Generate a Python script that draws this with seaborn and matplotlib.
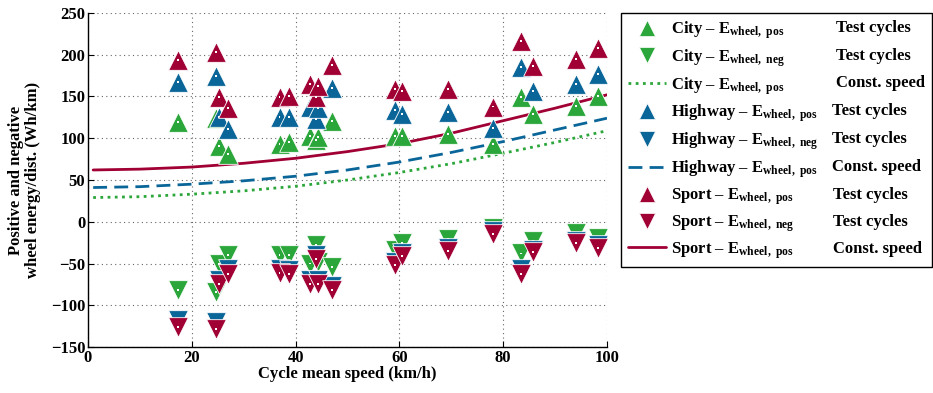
import matplotlib
matplotlib.use("Agg")
import matplotlib.pyplot as plt
from matplotlib.lines import Line2D
import seaborn as sns
import pandas as pd

# ---------------- data ----------------
speed = [17.4, 24.6, 25.2, 26.9, 36.9, 38.8, 42.7, 44.0, 44.3, 47.0,
         59.2, 60.5, 69.4, 78.1, 83.4, 85.7, 94.0, 98.3]

city_pos = [119, 124, 91, 81, 93, 95, 103, 98, 102, 121,
            103, 103, 105, 93, 149, 129, 139, 150]
city_neg = [-82, -84, -51, -40, -40, -40, -50, -28, -48, -54,
            -34, -26, -21, -7, -38, -23, -14, -19]

highway_pos = [167, 174, 125, 111, 125, 126, 137, 123, 136, 160,
               134, 129, 131, 112, 185, 157, 165, 177]
highway_neg = [-118, -120, -70, -57, -57, -58, -70, -40, -70, -77,
               -48, -38, -31, -11, -57, -34, -23, -28]

sport_pos = [194, 203, 149, 136, 149, 151, 165, 149, 163, 188,
             159, 156, 159, 138, 216, 186, 195, 208]
sport_neg = [-126, -128, -75, -62, -61, -63, -74, -45, -74, -82,
             -52, -41, -35, -15, -63, -36, -25, -31]

const_speed = [1, 10, 20, 30, 40, 50, 60, 70, 80, 90, 100]
city_const = [29, 30, 33, 37, 42.5, 50, 59, 69.5, 82, 95, 109]
highway_const = [41, 42, 45, 49, 54.5, 62, 71.5, 83, 96, 110, 124]
sport_const = [62, 63, 65.5, 70, 76, 84, 93.5, 106, 121, 136, 152]

x_ticks = [0, 20, 40, 60, 80, 100]
y_ticks = [-150, -100, -50, 0, 50, 100, 150, 200, 250]

GREEN = "#2AA63A"
BLUE = "#0A6699"
RED = "#A10035"

# ---------------- style ----------------
sns.set_theme(style="white")
plt.rcParams["font.family"] = ["Liberation Serif", "DejaVu Serif"]
plt.rcParams["font.weight"] = "bold"
plt.rcParams["text.color"] = "black"
plt.rcParams["axes.labelcolor"] = "black"
plt.rcParams["xtick.color"] = "black"
plt.rcParams["ytick.color"] = "black"
plt.rcParams["mathtext.fontset"] = "custom"
plt.rcParams["mathtext.rm"] = "Liberation Serif:bold"
plt.rcParams["mathtext.bf"] = "Liberation Serif:bold"
plt.rcParams["mathtext.it"] = "Liberation Serif:bold"

fig = plt.figure(figsize=(9.33, 3.93), dpi=100)
ax = fig.add_axes([0.0943, 0.117, 0.5563, 0.850])

MS = 200


def tri(xv, yv, color, marker):
    df = pd.DataFrame({"x": xv, "y": yv})
    sns.scatterplot(data=df, x="x", y="y", marker=marker, s=MS, color=color,
                    edgecolor="white", linewidth=0.6, ax=ax, legend=False,
                    zorder=3)
    sns.scatterplot(data=df, x="x", y="y", marker="s", s=2, color="white",
                    edgecolor="none", ax=ax, legend=False, zorder=3)


def curve(xv, yv, color, ls):
    df = pd.DataFrame({"x": xv, "y": yv})
    sns.lineplot(data=df, x="x", y="y", color=color, ax=ax, legend=False,
                 linewidth=2.0, linestyle=ls, zorder=2)


curve(const_speed, city_const, GREEN, (0, (1.0, 1.6)))
curve(const_speed, highway_const, BLUE, (0, (5, 2.6)))
curve(const_speed, sport_const, RED, "-")

tri(speed, city_pos, GREEN, "^")
tri(speed, city_neg, GREEN, "v")
tri(speed, highway_pos, BLUE, "^")
tri(speed, highway_neg, BLUE, "v")
tri(speed, sport_pos, RED, "^")
tri(speed, sport_neg, RED, "v")

ax.set_xlim(0, 100)
ax.set_ylim(-150, 250)
ax.set_xticks(x_ticks)
ax.set_yticks(y_ticks)
ax.set_xticklabels([str(t) for t in x_ticks])
ax.set_yticklabels([str(t).replace("-", "\u2212") for t in y_ticks])
ax.grid(True, linestyle=(0, (1, 3)), color="#666666", linewidth=0.8)
for s in ["top", "right"]:
    ax.spines[s].set_visible(False)
for s in ["left", "bottom"]:
    ax.spines[s].set_color("black")
    ax.spines[s].set_linewidth(1.0)
ax.tick_params(direction="in", length=4, width=0.8, labelsize=12,
               left=True, bottom=True, colors="black", pad=2)
for lab in ax.get_xticklabels() + ax.get_yticklabels():
    lab.set_fontweight("bold")
ax.set_xlabel("Cycle mean speed (km/h)", fontsize=12, fontweight="bold",
              labelpad=0)
ax.set_ylabel("Positive and negative\nwheel energy/dist. (Wh/km)",
              fontsize=12, fontweight="bold", labelpad=7,
              linespacing=1.1)

# ---------------- legend ----------------
def mk(color, marker):
    return Line2D([], [], color=color, marker=marker, linestyle="none",
                  markersize=11, markeredgecolor="white",
                  markeredgewidth=0.5)


handles = [
    mk(GREEN, "^"), mk(GREEN, "v"),
    Line2D([], [], color=GREEN, linewidth=2.0, linestyle=(0, (1.0, 1.6))),
    mk(BLUE, "^"), mk(BLUE, "v"),
    Line2D([], [], color=BLUE, linewidth=2.0, linestyle=(0, (5, 2.6))),
    mk(RED, "^"), mk(RED, "v"),
    Line2D([], [], color=RED, linewidth=2.0, linestyle="-"),
]
names = ["City", "City", "City", "Highway", "Highway", "Highway",
         "Sport", "Sport", "Sport"]
kinds = ["pos", "neg", "pos"] * 3
right = ["Test cycles", "Test cycles", "Const. speed"] * 3
labels = [f"{n} \u2013 E$_{{\\mathbf{{wheel,\\ {k}}}}}$"
          for n, k in zip(names, kinds)]

leg = fig.legend(handles, labels, loc="upper left",
                 bbox_to_anchor=(0.666, 0.326, 0.3325, 0.642),
                 bbox_transform=fig.transFigure, mode="expand",
                 fontsize=12, frameon=True, fancybox=False, framealpha=1,
                 edgecolor="black", handlelength=2.3, handletextpad=0.3,
                 labelspacing=0.375, borderpad=0.4, borderaxespad=0)
leg.get_frame().set_linewidth(1.0)
leg.set_zorder(5)
for t in leg.get_texts():
    t.set_fontweight("bold")

fig.canvas.draw()
renderer = fig.canvas.get_renderer()
right_x = [836, 836, 836, 832, 832, 832, 833, 833, 833]
for t, r, rx in zip(leg.get_texts(), right, right_x):
    bb = t.get_window_extent(renderer)
    yc = bb.y1 - 8.5
    fig.text(rx / 933.0, yc / fig.bbox.height, r, fontsize=12,
             fontweight="bold", va="center", ha="left", color="black",
             zorder=20)

fig.savefig("out.png", dpi=100)
